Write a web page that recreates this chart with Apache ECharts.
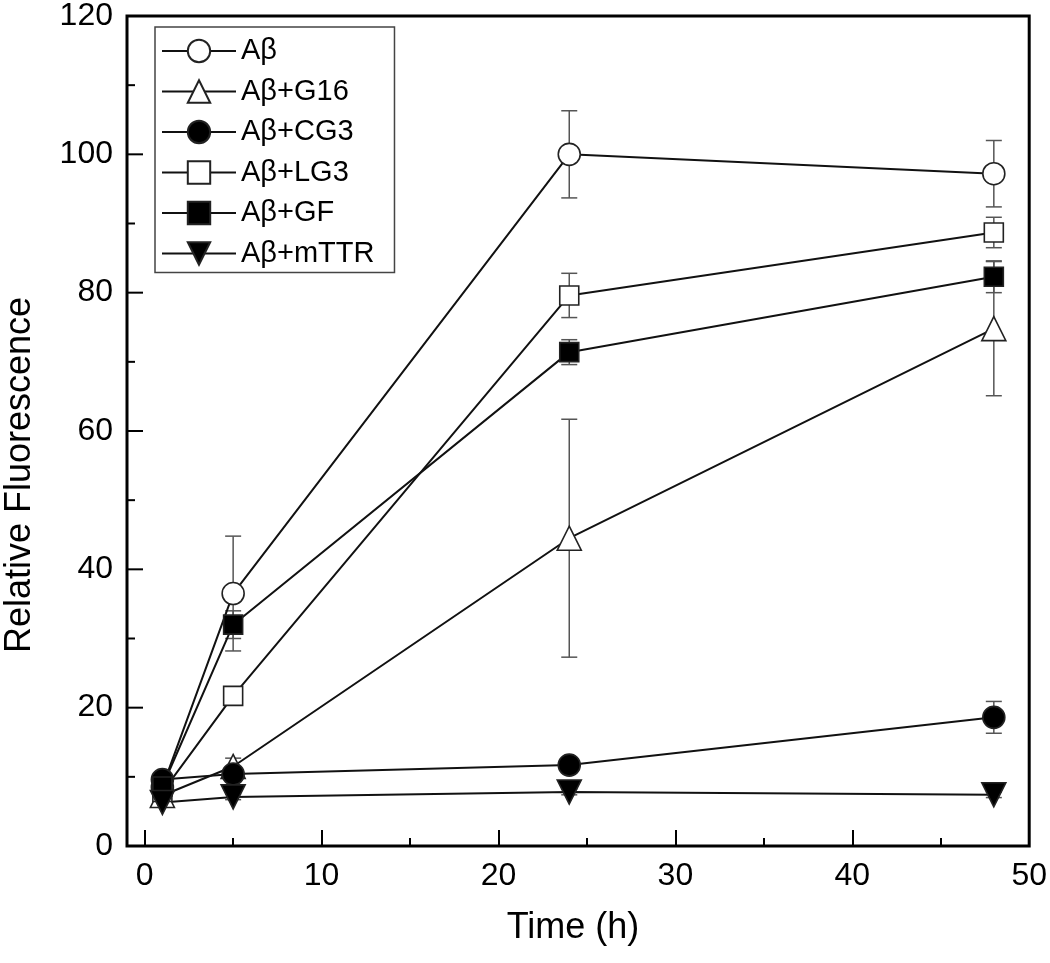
<!DOCTYPE html>
<html>
<head>
<meta charset="utf-8">
<script src="https://cdn.jsdelivr.net/npm/echarts@6/dist/echarts.min.js"></script>
<style>
html,body{margin:0;padding:0;background:#fff;}
#chart{width:1050px;height:963px;}
</style>
</head>
<body>
<div id="chart"></div>
<script>
// ---- data ----
var times = [1, 5, 24, 48];
var seriesNames = ['Aβ', 'Aβ+G16', 'Aβ+CG3', 'Aβ+LG3', 'Aβ+GF', 'Aβ+mTTR'];
var abeta    = [8.5, 36.5, 100.0, 97.2];
var abetaErr = [0.8, 8.3, 6.3, 4.8];
var g16      = [7.3, 11.5, 44.5, 74.8];
var g16Err   = [0.6, 1.2, 17.2, 9.7];
var cg3      = [9.6, 10.4, 11.7, 18.6];
var cg3Err   = [0.5, 0.8, 0.6, 2.3];
var lg3      = [7.8, 21.7, 79.6, 88.7];
var lg3Err   = [0.6, 1.0, 3.2, 2.2];
var gf       = [8.6, 32.0, 71.4, 82.3];
var gfErr    = [0.6, 2.0, 1.8, 2.3];
var mttr     = [6.3, 7.1, 7.8, 7.4];
var mttrErr  = [0.4, 0.4, 0.4, 0.4];
var xMajorTicks = [0, 10, 20, 30, 40, 50];
var xMinorTicks = [5, 15, 25, 35, 45];
var yMajorTicks = [0, 20, 40, 60, 80, 100, 120];
var yMinorTicks = [10, 30, 50, 70, 90, 110];
var xTitle = 'Time (h)';
var yTitle = 'Relative Fluorescence';

var values = [abeta, g16, cg3, lg3, gf, mttr];
var errors = [abetaErr, g16Err, cg3Err, lg3Err, gfErr, mttrErr];
var styles = [
  {symbol: 'circle', size: 22, fill: '#fff', rot: 0},
  {symbol: 'triangle', size: 24, fill: '#fff', rot: 0},
  {symbol: 'circle', size: 22, fill: '#000', rot: 0},
  {symbol: 'rect', size: 19, fill: '#fff', rot: 0},
  {symbol: 'rect', size: 19, fill: '#000', rot: 0},
  {symbol: 'triangle', size: 24, fill: '#000', rot: 180}
];

var FONT = '"Liberation Sans", Arial, sans-serif';
var X_MIN = -1, X_MAX = 50;
var series = [];
values.forEach(function (vals, i) {
  var st = styles[i];
  series.push({
    name: seriesNames[i],
    type: 'line',
    z: 3,
    data: times.map(function (t, k) { return [t, vals[k]]; }),
    symbol: st.symbol,
    symbolSize: st.size,
    symbolRotate: st.rot,
    showAllSymbol: true,
    lineStyle: {color: '#111', width: 2},
    itemStyle: {color: st.fill, borderColor: '#222', borderWidth: 1.6, opacity: 1},
    emphasis: {disabled: true},
    animation: false
  });
  series.push({
    type: 'custom',
    z: 2,
    silent: true,
    animation: false,
    data: times.map(function (t, k) { return [t, vals[k] - errors[i][k], vals[k] + errors[i][k]]; }),
    renderItem: function (params, api) {
      var lo = api.coord([api.value(0), api.value(1)]);
      var hi = api.coord([api.value(0), api.value(2)]);
      var hw = 8;
      var s = {stroke: '#555', lineWidth: 1.5};
      return {
        type: 'group',
        children: [
          {type: 'line', shape: {x1: lo[0], y1: lo[1], x2: hi[0], y2: hi[1]}, style: s},
          {type: 'line', shape: {x1: lo[0] - hw, y1: lo[1], x2: lo[0] + hw, y2: lo[1]}, style: s},
          {type: 'line', shape: {x1: hi[0] - hw, y1: hi[1], x2: hi[0] + hw, y2: hi[1]}, style: s}
        ]
      };
    }
  });
});

// y-axis tick marks (inward), placed through the axis scales
function yTickSeries(vals, len) {
  return {
    type: 'custom', z: 4, silent: true, animation: false, clip: false,
    data: vals.map(function (v) { return [X_MIN, v]; }),
    renderItem: function (params, api) {
      var p = api.coord([api.value(0), api.value(1)]);
      return {type: 'line', shape: {x1: p[0], y1: p[1], x2: p[0] + len, y2: p[1]},
              style: {stroke: '#000', lineWidth: 2}};
    }
  };
}
series.push(yTickSeries(yMajorTicks.slice(1, -1), 16));
series.push(yTickSeries(yMinorTicks, 8));

var chart = echarts.init(document.getElementById('chart'), null, {renderer: 'canvas'});
chart.setOption({
  backgroundColor: '#fff',
  animation: false,
  grid: {left: 127, right: 20, top: 14, bottom: 117, show: true, borderColor: '#000', borderWidth: 3, backgroundColor: 'transparent'},
  legend: {
    data: seriesNames,
    orient: 'vertical',
    left: 155, top: 27,
    itemWidth: 74, itemHeight: 28,
    itemGap: 10.5,
    padding: [9, 20, 4, 6],
    borderColor: '#444', borderWidth: 1.5,
    backgroundColor: '#fff',
    selectedMode: false,
    textStyle: {fontFamily: FONT, fontSize: 29, color: '#000', lineHeight: 30},
    z: 10
  },
  xAxis: [{
    type: 'value', min: X_MIN, max: X_MAX,
    axisLine: {show: false, onZero: false},
    axisTick: {show: true, inside: true, length: 16, customValues: xMajorTicks, lineStyle: {color: '#000', width: 2}},
    splitLine: {show: false},
    axisLabel: {fontFamily: FONT, fontSize: 32, color: '#000', margin: 14, customValues: xMajorTicks}
  }, {
    type: 'value', min: X_MIN, max: X_MAX, position: 'bottom',
    axisLine: {show: false, onZero: false},
    axisTick: {show: true, inside: true, length: 8, customValues: xMinorTicks, lineStyle: {color: '#000', width: 2}},
    splitLine: {show: false},
    axisLabel: {show: false}
  }],
  yAxis: {
    type: 'value', min: 0, max: 120, position: 'left',
    axisLine: {show: false, onZero: false},
    axisTick: {show: false},
    splitLine: {show: false},
    axisLabel: {fontFamily: FONT, fontSize: 32, color: '#000', margin: 14, customValues: yMajorTicks}
  },
  graphic: [
    {type: 'text', silent: true, x: 573, y: 928,
     style: {text: xTitle, font: '36px ' + FONT, fill: '#000', x: 0, y: 0, align: 'center', verticalAlign: 'middle'}},
    {type: 'text', silent: true, rotation: Math.PI / 2, x: 20, y: 475,
     style: {text: yTitle, font: '36px ' + FONT, fill: '#000', x: 0, y: 0, align: 'center', verticalAlign: 'middle'}}
  ],
  series: series
});
</script>
</body>
</html>
